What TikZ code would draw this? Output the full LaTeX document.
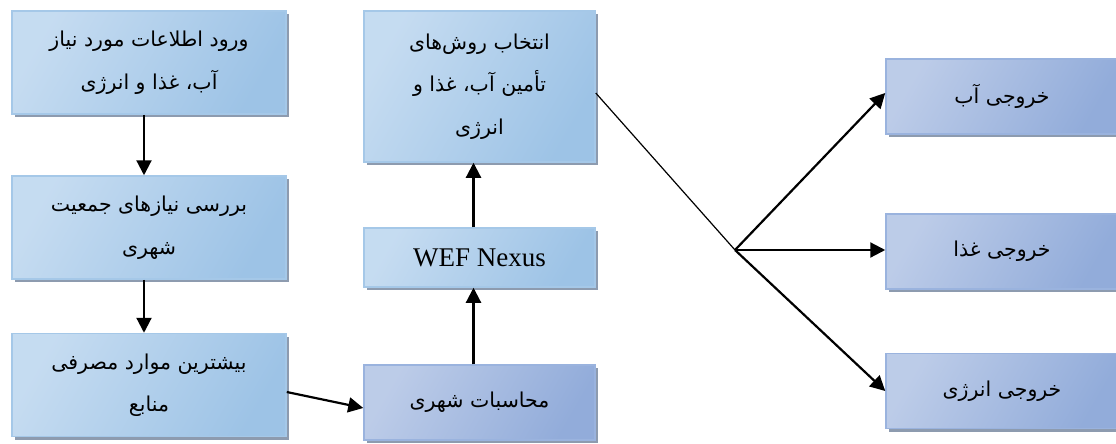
\documentclass[tikz,border=0pt]{standalone}
\usepackage{fontspec}
\setmainfont{Liberation Serif}
\newfontfamily\farsifont[Script=Arabic]{DejaVu Sans}
\TeXXeTstate=1
\usetikzlibrary{arrows.meta,shadows}

\definecolor{bluelight}{HTML}{E0ECF8}
\definecolor{bluedark}{HTML}{9DC3E6}
\definecolor{blueline}{HTML}{A5C8E8}
\definecolor{violight}{HTML}{DFE6F4}
\definecolor{viodark}{HTML}{92ACDA}
\definecolor{violine}{HTML}{9AB3DE}
\definecolor{shadowgray}{HTML}{8D9BAF}

\newcommand{\fa}[1]{{\farsifont\beginR #1\endR}}

\tikzstyle{block} = [draw=blueline, line width=1.5pt, rectangle,
    left color=bluelight!60!bluedark, middle color=bluelight, right color=bluedark,
    shading angle=60,
    drop shadow={shadow xshift=3pt, shadow yshift=-3pt, fill=shadowgray, opacity=1},
    align=center, font=\fontsize{20.5}{42.5}\selectfont,
    minimum width=274pt, minimum height=103pt]
\tikzstyle{vblock} = [block, draw=violine,
    left color=violight!55!viodark, middle color=violight, right color=viodark,
    shading angle=60, minimum width=232pt, minimum height=75pt]
\tikzstyle{arrow} = [black, line width=2.2pt, -{Triangle[length=15pt,width=15pt]}]

\begin{document}
\begin{tikzpicture}[x=1pt, y=-1pt]
  \useasboundingbox (0,0) rectangle (1116,444);

  \node (input) [block] at (149,62.5)
    {\fa{ورود اطلاعات مورد نیاز}\\\fa{آب، غذا و انرژی}};
  \node (needs) [block] at (149,227.5)
    {\fa{بررسی نیازهای جمعیت}\\\fa{شهری}};
  \node (usage) [block] at (149,385)
    {\fa{بیشترین موارد مصرفی}\\\fa{منابع}};

  \node (methods) [block, minimum width=231pt, minimum height=151pt] at (479.5,86.5)
    {\fa{انتخاب روش‌های}\\\fa{تأمین آب، غذا و}\\\fa{انرژی}};
  \node (nexus) [block, minimum width=231pt, minimum height=59pt,
    font=\fontsize{27}{30}\selectfont] at (479.5,257.5) {WEF Nexus};
  \node (calc) [vblock, minimum width=231pt] at (479.5,402.5) {\fa{محاسبات شهری}};

  \node (water) [vblock] at (1002,96.5) {\fa{خروجی آب}};
  \node (food) [vblock] at (1002,251.5) {\fa{خروجی غذا}};
  \node (energy) [vblock] at (1002,391) {\fa{خروجی انرژی}};
  \coordinate (split) at (735,250);

  \draw [arrow] ([xshift=-5pt]input.south) -- ([xshift=-5pt]needs.north);
  \draw [arrow] ([xshift=-5pt]needs.south) -- ([xshift=-5pt]usage.north);
  \draw [arrow] ([yshift=-7pt]usage.east) -- ([yshift=-5.5pt]calc.west);
  \draw [arrow] ([xshift=-6pt]calc.north) -- ([xshift=-6pt]nexus.south);
  \draw [arrow] ([xshift=-6pt]nexus.north) -- ([xshift=-6pt]methods.south);

  \draw [black, line width=1.2pt] ([yshift=-6.5pt]methods.east) -- (split);
  \draw [arrow] (split) -- ([yshift=3.5pt]water.west);
  \draw [arrow] (split) -- ([yshift=1.5pt]food.west);
  \draw [arrow] (split) -- (energy.west);
\end{tikzpicture}
\end{document}
